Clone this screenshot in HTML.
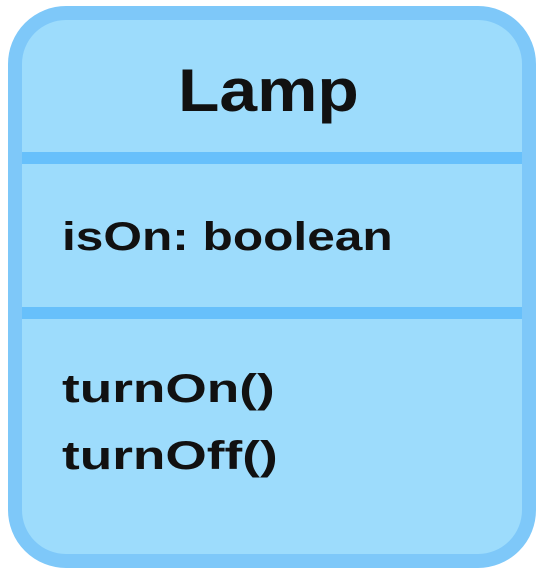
<!DOCTYPE html>
<html><head><style>
body{margin:0;width:544px;height:574px;background:#fff;position:relative;font-family:"Liberation Sans",sans-serif;font-weight:bold;color:#111;overflow:hidden}
.box{position:absolute;left:8px;top:6px;width:500px;height:534px;border:14px solid #7ec8f9;border-radius:58px;background:#9ddcfc}
.line{position:absolute;left:22px;width:500px;height:12px;background:#67c0fb}
.t{position:absolute;white-space:nowrap;transform-origin:0 50%}
</style></head><body>
<div class="box"></div>
<div class="line" style="top:152px"></div>
<div class="line" style="top:307px"></div>
<div class="t" style="left:178px;top:56px;font-size:60px;line-height:70px;transform:scaleX(1.13)">Lamp</div>
<div class="t" style="left:62px;top:214px;font-size:40px;line-height:46px;transform:scaleX(1.24)">isOn: boolean</div>
<div class="t" style="left:62px;top:366px;font-size:40px;line-height:46px;transform:scaleX(1.33)">turnOn()</div>
<div class="t" style="left:62px;top:433px;font-size:40px;line-height:46px;transform:scaleX(1.33)">turnOff()</div>
</body></html>
